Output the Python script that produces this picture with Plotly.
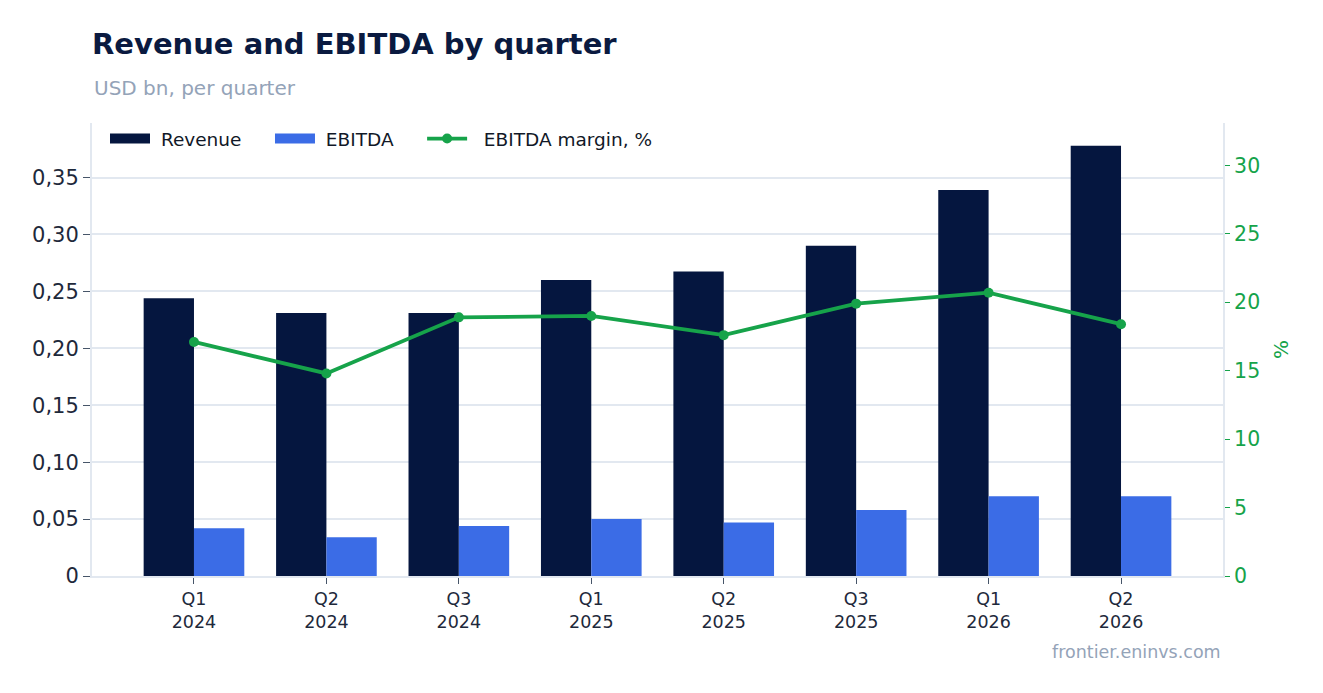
import plotly.graph_objects as go

quarters = ["Q1<br>2024", "Q2<br>2024", "Q3<br>2024", "Q1<br>2025",
            "Q2<br>2025", "Q3<br>2025", "Q1<br>2026", "Q2<br>2026"]
revenue = [0.244, 0.231, 0.231, 0.260, 0.2675, 0.290, 0.339, 0.378]
ebitda = [0.042, 0.034, 0.044, 0.050, 0.047, 0.058, 0.070, 0.070]
margin = [17.1, 14.8, 18.9, 19.0, 17.6, 19.9, 20.7, 18.4]

usd_ticks = [0, 0.05, 0.10, 0.15, 0.20, 0.25, 0.30, 0.35]
usd_labels = ["0", "0,05", "0,10", "0,15", "0,20", "0,25", "0,30", "0,35"]

FONT = "DejaVu Sans"
GRID = "#e2e8f0"
NAVY = "#05163f"
BLUE = "#3b6ce6"
GREEN = "#16a34a"
NB = "\u00a0"

fig = go.Figure()
fig.add_trace(go.Bar(x=quarters, y=revenue, name="Revenue", marker_color=NAVY,
                     marker_line_width=0, showlegend=False))
fig.add_trace(go.Bar(x=quarters, y=ebitda, name="EBITDA", marker_color=BLUE,
                     marker_line_width=0, showlegend=False))
fig.add_trace(go.Scatter(
    x=quarters, y=margin, name=NB * 2 + "EBITDA margin, %", yaxis="y2",
    mode="lines+markers", line=dict(color=GREEN, width=3.8),
    marker=dict(size=10, color=GREEN), legendrank=3,
))
# legend swatches for the bars, drawn as wide rectangles
for name, color, rank in [("Revenue", NAVY, 1), ("EBITDA", BLUE, 2)]:
    fig.add_trace(go.Scatter(x=[None], y=[None], name=NB + name + NB * 4,
                             mode="lines", line=dict(color=color, width=14),
                             legendrank=rank))

fig.update_layout(
    width=1307, height=677,
    margin=dict(l=84, r=92, t=115, b=109),
    paper_bgcolor="white", plot_bgcolor="white",
    font=dict(family=FONT, color="#1e293b"),
    barmode="group", bargap=0.24, bargroupgap=0,
    title=dict(
        text="<b>Revenue and EBITDA by quarter</b>",
        x=84 / 1307, xanchor="left", y=1 - 36 / 677, yanchor="middle",
        font=dict(size=29, color="#0a1a40", family=FONT),
    ),
    legend=dict(
        orientation="h", x=13 / 1131, y=1 + 3 / 453, xanchor="left", yanchor="top",
        font=dict(size=18.5, color="#111827"), bgcolor="rgba(0,0,0,0)",
        itemwidth=40,
    ),
    xaxis=dict(
        range=[-0.77, 7.77],
        showline=True, linecolor=GRID, linewidth=2,
        ticks="outside", tickcolor="#475569", ticklen=6,
        tickfont=dict(size=17.5, color="#1e293b"),
    ),
    yaxis=dict(
        rangemode="tozero", showgrid=True, gridcolor=GRID, gridwidth=1.5,
        showline=True, linecolor=GRID, linewidth=2,
        ticks="outside", tickcolor="#475569", ticklen=7,
        tickvals=usd_ticks, ticktext=usd_labels, zeroline=False,
        tickfont=dict(size=21, color="#1e293b"),
    ),
    yaxis2=dict(
        overlaying="y", side="right", range=[0, 33.1],
        showgrid=False, showline=True, linecolor=GRID, linewidth=2,
        ticks="outside", tickcolor=GREEN, ticklen=5, dtick=5,
        zeroline=False,
        tickfont=dict(size=20.5, color=GREEN),
        title=dict(text="%", font=dict(size=20, color=GREEN)),
    ),
    annotations=[
        dict(text="USD bn, per quarter", xref="paper", yref="paper",
             x=0, y=1 + 35 / 453, xanchor="left", yanchor="middle",
             showarrow=False, font=dict(size=20, color="#94a3b8")),
        dict(text="frontier.eninvs.com", xref="paper", yref="paper",
             x=1, y=-76 / 453, xanchor="right", yanchor="middle",
             showarrow=False, font=dict(size=17.5, color="#94a3b8")),
    ],
)

fig.write_html("out.html")
